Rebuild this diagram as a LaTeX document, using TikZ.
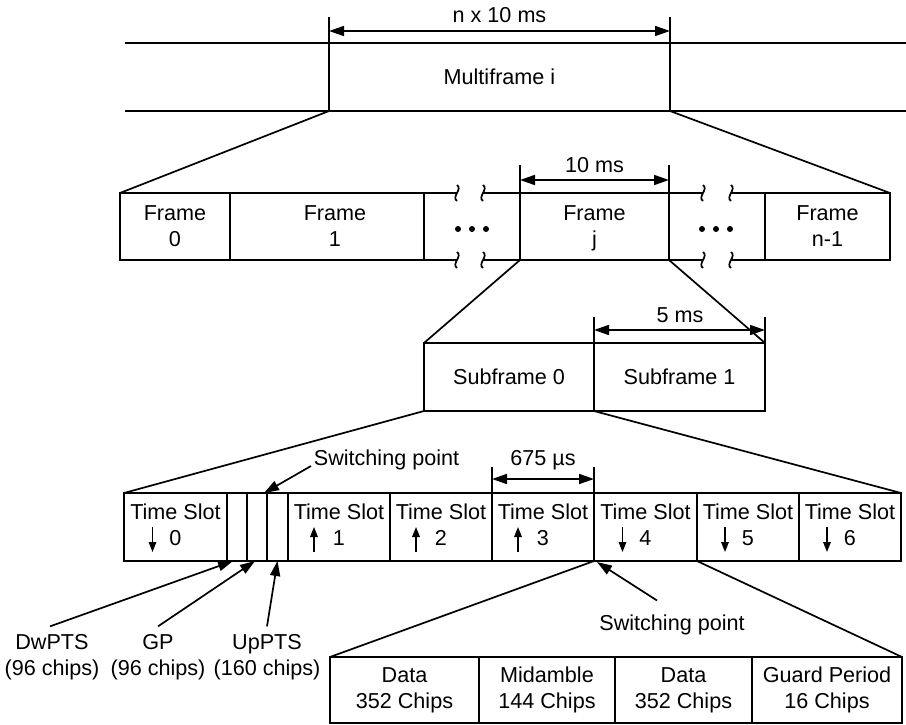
\documentclass[tikz,border=0pt]{standalone}
\usepackage{fontspec}
\setmainfont{Liberation Sans}
\usetikzlibrary{arrows.meta}
\begin{document}
\begin{tikzpicture}[x=1pt,y=-1pt,line width=1.7pt,
  font=\fontsize{21.6}{26}\selectfont,
  cell/.style={draw, rectangle, inner sep=0pt, outer sep=0pt, anchor=north west},
  txt/.style={align=center, inner sep=0pt},
  dimarrow/.style={{Triangle[length=15pt,width=10pt]}-{Triangle[length=15pt,width=10pt]}},
  ptr/.style={-{Triangle[length=15pt,width=10pt]}},
  dirarrow/.style={-{Triangle[length=10pt,width=7.5pt]}, line width=1.5pt},
  brkmark/.pic={\draw (0,-8) .. controls (6,-4) and (-6,4) .. (0,8);},
]
\useasboundingbox (0,0) rectangle (906,725);

% ---------- Multiframe row ----------
\node[inner sep=0pt, outer sep=0pt, minimum width=341pt, minimum height=68pt, anchor=north west] (mf) at (329,43) {Multiframe i};
\coordinate (mfl1) at (125,43); \coordinate (mfr1) at (906,43);
\coordinate (mfl2) at (125,111); \coordinate (mfr2) at (906,111);
\draw (mfl1) -- (mfr1);
\draw (mfl2) -- (mfr2);
\draw ([yshift=26pt]mf.north west) -- (mf.south west);
\draw ([yshift=26pt]mf.north east) -- (mf.south east);
\draw[dimarrow] ([yshift=12pt]mf.north west) -- ([yshift=12pt]mf.north east);
\node[anchor=base, inner sep=0pt] (dmf) at (499.5,23) {n x 10 ms};

% ---------- Frame row ----------
\node[cell, minimum width=110pt, minimum height=67pt] (f0) at (120,193) {};
\node[cell, minimum width=194pt, minimum height=67pt] (f1) at (230,193) {};
\node[cell, minimum width=149pt, minimum height=67pt] (fj) at (520,193) {};
\node[cell, minimum width=125pt, minimum height=67pt] (fn) at (765,193) {};
\node[txt] at (f0.center) {Frame\\0};
\node[txt] at ([xshift=8pt]f1.center) {Frame\\1};
\node[txt] at (fj.center) {Frame\\\smash{j}};
\node[txt] at (fn.center) {Frame\\n-1};

\coordinate (ba1) at (457,193); \coordinate (ba2) at (483,193);
\coordinate (ba3) at (703,193); \coordinate (ba4) at (731,193);
\coordinate (bb1) at (457,260); \coordinate (bb2) at (483,260);
\coordinate (bb3) at (703,260); \coordinate (bb4) at (731,260);
\draw (f1.north east) -- (ba1); \draw (ba2) -- (fj.north west);
\draw (fj.north east) -- (ba3); \draw (ba4) -- (fn.north west);
\draw (f1.south east) -- (bb1); \draw (bb2) -- (fj.south west);
\draw (fj.south east) -- (bb3); \draw (bb4) -- (fn.south west);
\foreach \c in {ba1,ba2,ba3,ba4,bb1,bb2,bb3,bb4} \pic at (\c) {brkmark};
\foreach \x in {458,472,486,702,716,730} \fill (\x,229) circle (3pt);

\draw (mf.south west) -- (f0.north west);
\draw (mf.south east) -- (fn.north east);

\draw ([yshift=28pt]fj.north west) -- (fj.north west);
\draw ([yshift=28pt]fj.north east) -- (fj.north east);
\draw[dimarrow] ([yshift=13pt]fj.north west) -- ([yshift=13pt]fj.north east);
\node[anchor=base, inner sep=0pt] (dfj) at (594.5,172) {10 ms};

% ---------- Subframe row ----------
\node[cell, minimum width=170pt, minimum height=68pt] (sf0) at (424,343) {Subframe 0};
\node[cell, minimum width=171pt, minimum height=68pt] (sf1) at (594,343) {Subframe 1};
\draw (fj.south west) -- (sf0.north west);
\draw (fj.south east) -- (sf1.north east);
\draw ([yshift=26pt]sf1.north west) -- (sf1.north west);
\draw ([yshift=26pt]sf1.north east) -- (sf1.north east);
\draw[dimarrow] ([yshift=13pt]sf1.north west) -- ([yshift=13pt]sf1.north east);
\node[anchor=base, inner sep=0pt] (dsf) at (680,322) {5 ms};

% ---------- Time slot row ----------
\node[cell, minimum width=103pt, minimum height=68pt] (ts0) at (124,493) {};
\node[cell, minimum width=20pt, minimum height=68pt] (dw) at (227,493) {};
\node[cell, minimum width=20pt, minimum height=68pt] (gp) at (247,493) {};
\node[cell, minimum width=21pt, minimum height=68pt] (up) at (267,493) {};
\node[cell, minimum width=102pt, minimum height=68pt] (ts1) at (288,493) {};
\node[cell, minimum width=102pt, minimum height=68pt] (ts2) at (390,493) {};
\node[cell, minimum width=102pt, minimum height=68pt] (ts3) at (492,493) {};
\node[cell, minimum width=103pt, minimum height=68pt] (ts4) at (594,493) {};
\node[cell, minimum width=102pt, minimum height=68pt] (ts5) at (697,493) {};
\node[cell, minimum width=102pt, minimum height=68pt] (ts6) at (799,493) {};
\foreach \t/\n in {ts0/0,ts1/1,ts2/2,ts3/3,ts4/4,ts5/5,ts6/6}
  \node[txt] (l\t) at ([yshift=2pt]\t.center) {Time Slot\\\n};
\foreach \t in {ts0,ts4,ts5,ts6}
  \draw[dirarrow] ([xshift=-23pt]\t.center) -- ([xshift=-23pt,yshift=-25pt]\t.center);
\foreach \t in {ts1,ts2,ts3}
  \draw[dirarrow] ([xshift=-25pt,yshift=-25pt]\t.center) -- ([xshift=-25pt]\t.center);

\draw (sf0.south west) -- (ts0.north west);
\draw (sf0.south east) -- (ts6.north east);

\draw ([yshift=26pt]ts3.north west) -- (ts3.north west);
\draw ([yshift=26pt]ts3.north east) -- (ts3.north east);
\draw[dimarrow] ([yshift=14pt]ts3.north west) -- ([yshift=14pt]ts3.north east);
\node[anchor=base, inner sep=0pt] (dts) at (543,465) {675 µs};

\node[anchor=base, inner sep=0pt] (sw1) at (386.5,465) {Switching point};
\draw[ptr] ([xshift=-2pt,yshift=-1pt]sw1.base west) -- ([xshift=-3pt]up.north west);

% ---------- PTS labels ----------
\node[txt] (dwl) at (52,657) {DwPTS\\(96 chips)};
\node[txt] (gpl) at (158,657) {GP\\(96 chips)};
\node[txt] (upl) at (267,657) {UpPTS\\(160 chips)};
\draw[ptr] ([xshift=-2pt,yshift=7pt]dwl.north) -- ([xshift=-4pt]dw.south);
\draw[ptr] ([yshift=7pt]gpl.north) -- ([xshift=-2pt]gp.south);
\draw[ptr] ([yshift=7pt]upl.north) -- (up.south);

% ---------- Burst row ----------
\node[cell, minimum width=149pt, minimum height=66pt] (b1) at (330,657) {};
\node[cell, minimum width=136pt, minimum height=66pt] (b2) at (479,657) {};
\node[cell, minimum width=137pt, minimum height=66pt] (b3) at (615,657) {};
\node[cell, minimum width=150pt, minimum height=66pt] (b4) at (752,657) {};
\node[txt] at (b1.center) {Data\\352 Chips};
\node[txt] at (b2.center) {Midamble\\144 Chips};
\node[txt] at (b3.center) {Data\\352 Chips};
\node[txt] at (b4.center) {Guard Period\\16 Chips};
\draw (ts4.south west) -- (b1.north west);
\draw (ts4.south east) -- (b4.north east);

\node[anchor=base, inner sep=0pt] (sw2) at (672,630) {Switching point};
\draw[ptr] ([xshift=-15pt,yshift=13pt]sw2.north) -- ([xshift=3pt,yshift=-1pt]ts4.south west);
\end{tikzpicture}
\end{document}
